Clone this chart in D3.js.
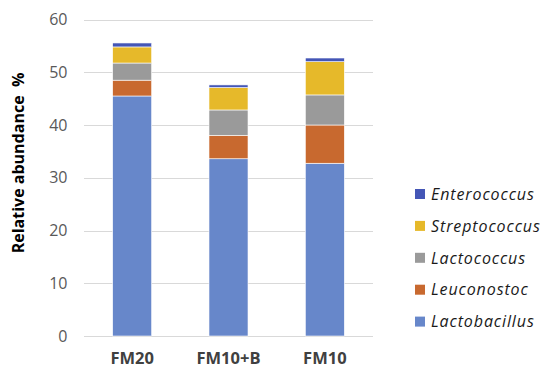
<!DOCTYPE html>
<html>
<head>
<meta charset="utf-8">
<script src="https://cdn.jsdelivr.net/npm/d3@7"></script>
<style>
  html, body { margin: 0; padding: 0; background: #fff; }
  svg { display: block; font-family: "Open Sans", "Liberation Sans", sans-serif; }
</style>
</head>
<body>
<svg id="chart" width="540" height="369"></svg>
<script>
// Samples along the x axis
const samples = ["FM20", "FM10+B", "FM10"];
// Genera, stacked bottom to top
const genera = ["Lactobacillus", "Leuconostoc", "Lactococcus", "Streptococcus", "Enterococcus"];
// Relative abundance (%) per genus, one value per sample
const lactobacillus = [45.5, 33.6, 32.75];
const leuconostoc   = [3.0, 4.45, 7.25];
const lactococcus   = [3.25, 4.8, 5.7];
const streptococcus = [3.05, 4.25, 6.3];
const enterococcus  = [0.75, 0.5, 0.7];
// Y axis ticks
const yTicks = [0, 10, 20, 30, 40, 50, 60];

const colors = {
  Lactobacillus: "#6787CA",
  Leuconostoc: "#C8692F",
  Lactococcus: "#9A9A9A",
  Streptococcus: "#E6B92A",
  Enterococcus: "#4456B6"
};

const seriesValues = {
  Lactobacillus: lactobacillus,
  Leuconostoc: leuconostoc,
  Lactococcus: lactococcus,
  Streptococcus: streptococcus,
  Enterococcus: enterococcus
};

const rows = samples.map((s, i) => {
  const r = { sample: s };
  genera.forEach(g => { r[g] = seriesValues[g][i]; });
  return r;
});

const svg = d3.select("#chart");
const plot = { left: 84, right: 373, top: 19.5, bottom: 336 };

const x = d3.scaleBand().domain(samples).range([plot.left, plot.right]).paddingInner(0.595).paddingOuter(0.2975);
const y = d3.scaleLinear().domain([0, 60]).range([plot.bottom, plot.top]);

// Horizontal gridlines
svg.append("g")
  .selectAll("line")
  .data(yTicks)
  .join("line")
  .attr("x1", plot.left).attr("x2", plot.right)
  .attr("y1", d => Math.round(y(d)) + 0.5).attr("y2", d => Math.round(y(d)) + 0.5)
  .attr("stroke", "#D9D9D9").attr("stroke-width", 1);

// Y axis labels
const yAxis = d3.axisLeft(y).tickValues(yTicks).tickSize(0).tickPadding(0);
const yg = svg.append("g").attr("transform", `translate(67.5,0)`).call(yAxis);
yg.select(".domain").remove();
yg.selectAll("text")
  .attr("font-size", 16).attr("fill", "#595959")
  .attr("font-family", "'Open Sans', sans-serif");

// Stacked bars
const stack = d3.stack().keys(genera)(rows);
svg.append("g")
  .selectAll("g")
  .data(stack)
  .join("g")
  .attr("fill", d => colors[d.key])
  .selectAll("rect")
  .data(d => d)
  .join("rect")
  .attr("x", d => x(d.data.sample))
  .attr("width", x.bandwidth())
  .attr("y", d => y(d[1]))
  .attr("height", d => y(d[0]) - y(d[1]))
  .attr("stroke", "#ffffff").attr("stroke-width", 0.6);

// X axis labels
const xAxis = d3.axisBottom(x).tickSize(0).tickPadding(0);
const xg = svg.append("g").attr("transform", `translate(0,363.5)`).call(xAxis);
xg.select(".domain").remove();
xg.selectAll("text")
  .attr("dy", 0)
  .attr("font-size", 16.5).attr("font-weight", "bold").attr("fill", "#404040")
  .attr("font-family", "'Open Sans', sans-serif");

// Y axis title
svg.append("text")
  .attr("transform", "translate(23.5,163) rotate(-90)")
  .attr("text-anchor", "middle")
  .attr("font-size", 16).attr("font-weight", "bold").attr("fill", "#000")
  .attr("xml:space", "preserve")
  .text("Relative abundance  %");

// Legend, top genus first
const legendOrder = genera.slice().reverse();
const lg = svg.append("g")
  .selectAll("g")
  .data(legendOrder)
  .join("g")
  .attr("transform", (d, i) => `translate(415,${194 + i * 31.9})`);
lg.append("rect")
  .attr("x", 0).attr("y", -5).attr("width", 10).attr("height", 10)
  .attr("fill", d => colors[d]);
lg.append("text")
  .attr("x", 16).attr("y", 0).attr("dy", "0.36em")
  .attr("font-size", 16).attr("font-style", "italic").attr("fill", "#1a1a1a")
  .attr("letter-spacing", 0.9)
  .text(d => d);
</script>
</body>
</html>
